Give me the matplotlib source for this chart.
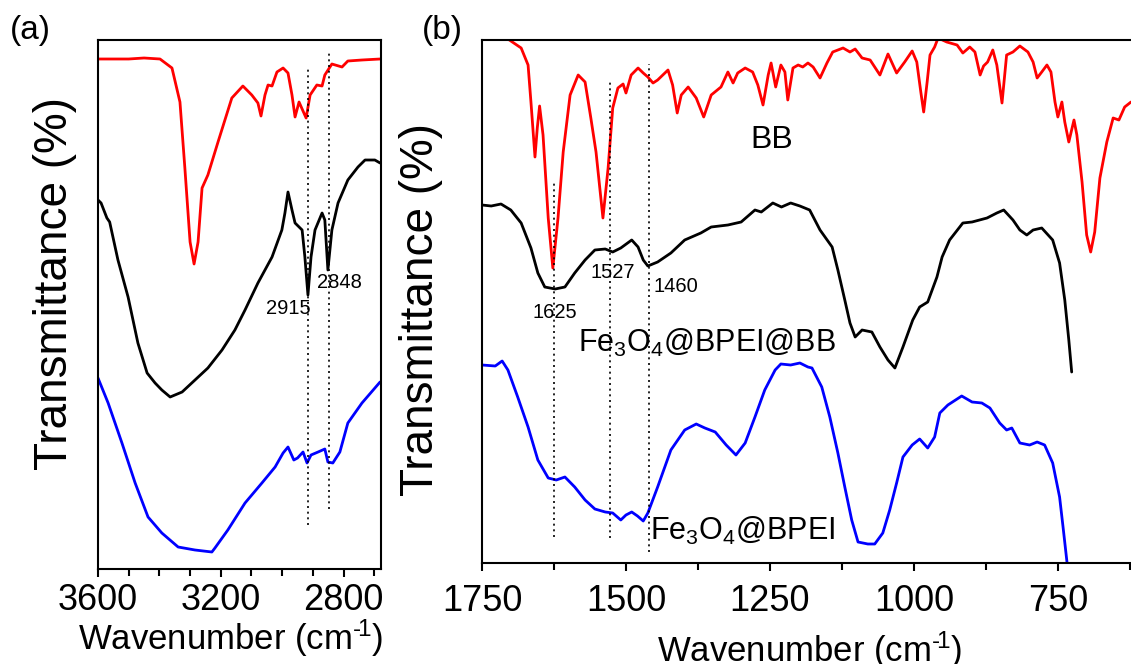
import matplotlib
matplotlib.use('Agg')
import matplotlib.pyplot as plt
from matplotlib.ticker import MultipleLocator

plt.rcParams['font.family'] = ['Liberation Sans', 'DejaVu Sans']
plt.rcParams['mathtext.fontset'] = 'custom'
plt.rcParams['mathtext.rm'] = 'Liberation Sans'
plt.rcParams['mathtext.it'] = 'Liberation Sans'
plt.rcParams['mathtext.default'] = 'regular'
plt.rcParams['lines.solid_joinstyle'] = 'round'
plt.rcParams['lines.solid_capstyle'] = 'round'

# ---- panel (a): 3600-2680 cm-1, transmittance in arbitrary units ----
bb_a_wn = [3600, 3500, 3450, 3398, 3359, 3333, 3317, 3300, 3287, 3274, 3261, 3242, 3209,
           3164, 3128, 3099, 3079, 3069, 3056, 3046, 3033, 3017, 2997, 2981, 2968, 2958,
           2945, 2922, 2909, 2887, 2870, 2861, 2838, 2805, 2786, 2740, 2681]
bb_a_t = [510, 510, 511, 510, 501, 467, 401, 327, 305, 327, 381, 394, 427,
          471, 483, 474, 466, 453, 474, 484, 483, 497, 501, 496, 474, 452,
          467, 451, 474, 484, 483, 494, 505, 502, 508, 509, 510]

fbb_a_wn = [3600, 3590, 3571, 3562, 3535, 3502, 3470, 3440, 3414, 3392, 3365, 3326, 3284,
            3242, 3196, 3154, 3121, 3079, 3033, 3001, 2991, 2981, 2968, 2958, 2935, 2926,
            2916, 2906, 2893, 2870, 2861, 2851, 2838, 2818, 2786, 2753, 2730, 2698, 2681]
fbb_a_t = [369, 366, 351, 347, 309, 272, 226, 196, 186, 179, 172, 177, 189,
           201, 219, 239, 259, 286, 312, 339, 356, 377, 359, 346, 339, 312,
           274, 312, 339, 356, 349, 299, 339, 366, 389, 402, 409, 409, 406]

fb_a_wn = [3600, 3567, 3522, 3479, 3437, 3392, 3339, 3284, 3229, 3219, 3177, 3121, 3066,
           3023, 2997, 2981, 2962, 2950, 2932, 2919, 2906, 2883, 2861, 2851, 2835, 2812,
           2786, 2740, 2681]
fb_a_t = [191, 166, 126, 86, 52, 36, 22, 19, 17, 21, 39, 66, 86,
          102, 116, 122, 109, 111, 117, 106, 114, 117, 120, 107, 106, 117,
          146, 166, 187]

peaks_a = [2915, 2848]
peaks_a_span = [(44, 502), (60, 517)]

# ---- panel (b): 1750-623 cm-1 ----
bb_b_wn = [1705, 1682, 1670, 1665, 1658, 1654, 1650, 1644, 1635, 1627, 1618, 1609, 1597,
           1583, 1571, 1561, 1552, 1540, 1531, 1523, 1514, 1505, 1500, 1491, 1479, 1470,
           1462, 1453, 1445, 1427, 1419, 1411, 1404, 1392, 1378, 1365, 1352, 1335, 1323,
           1314, 1306, 1293, 1280, 1271, 1262, 1253, 1248, 1240, 1231, 1224, 1219, 1210,
           1201, 1193, 1184, 1175, 1163, 1151, 1141, 1123, 1111, 1102, 1090, 1076, 1059,
           1045, 1030, 1016, 1003, 995, 988, 983, 977, 972, 964, 958, 943, 925, 915, 903,
           894, 885, 879, 872, 863, 856, 847, 839, 828, 816, 802, 793, 786, 778, 769, 762,
           755, 750, 743, 738, 731, 722, 717, 708, 700, 693, 686, 677, 665, 654, 644, 634,
           623]
bb_b_t = [524, 515, 498, 461, 406, 435, 457, 428, 345, 295, 345, 411, 468,
          488, 481, 445, 411, 345, 395, 455, 475, 479, 470, 488, 495, 490,
          486, 480, 483, 493, 478, 450, 468, 476, 465, 446, 468, 476, 491,
          480, 490, 495, 491, 478, 458, 488, 500, 476, 498, 491, 463, 495,
          498, 496, 500, 496, 485, 500, 511, 515, 511, 514, 505, 503, 488,
          509, 490, 501, 512, 501, 471, 451, 481, 508, 516, 525, 521, 518, 510, 516,
          511, 488, 497, 501, 513, 498, 460, 508, 511, 517, 511, 501, 485, 491, 498, 491,
          461, 446, 461, 441, 421, 443, 428, 381, 328, 311, 331, 385, 421, 445, 443, 456,
          461]

fbb_b_wn = [1750, 1734, 1717, 1700, 1682, 1665, 1653, 1641, 1623, 1606, 1589, 1571, 1554,
            1536, 1523, 1509, 1490, 1479, 1470, 1462, 1445, 1422, 1398, 1370, 1352, 1323,
            1300, 1276, 1265, 1245, 1230, 1214, 1198, 1181, 1163, 1142, 1132, 1120, 1111,
            1102, 1090, 1073, 1059, 1045, 1033, 1019, 1002, 990, 976, 960, 951, 938, 915,
            899, 873, 856, 844, 828, 816, 804, 793, 778, 759, 747, 738, 731, 726]
fbb_b_t = [358, 357, 359, 353, 340, 315, 290, 276, 274, 276, 290, 303, 313,
           314, 311, 315, 323, 316, 303, 297, 301, 310, 323, 330, 336, 338,
           341, 353, 351, 360, 356, 360, 357, 353, 333, 316, 293, 263, 240,
           226, 233, 231, 216, 203, 195, 216, 243, 256, 261, 286, 306, 323, 340,
           341, 345, 350, 353, 343, 333, 328, 333, 335, 323, 300, 263, 223, 191]

fb_b_wn = [1750, 1727, 1715, 1705, 1688, 1670, 1653, 1635, 1621, 1606, 1589, 1571, 1554,
           1536, 1523, 1509, 1500, 1490, 1480, 1470, 1462, 1445, 1422, 1398, 1378, 1363,
           1345, 1326, 1309, 1293, 1276, 1259, 1241, 1231, 1214, 1198, 1184, 1177, 1160,
           1146, 1132, 1120, 1108, 1097, 1080, 1068, 1054, 1042, 1030, 1019, 1003, 990,
           976, 964, 955, 941, 917, 899, 882, 868, 851, 839, 830, 816, 799, 786, 773,
           759, 747, 741, 734]
fb_b_t = [198, 197, 202, 193, 166, 136, 103, 85, 83, 86, 76, 63, 54,
          51, 50, 43, 48, 51, 47, 42, 50, 76, 113, 133, 139, 135,
          131, 118, 108, 120, 146, 173, 193, 199, 198, 200, 196, 195, 176,
          146, 110, 76, 43, 21, 19, 19, 30, 53, 80, 106, 118, 124,
          115, 126, 150, 158, 167, 161, 160, 155, 140, 133, 135, 120, 118, 121, 118,
          100, 66, 36, 0]

peaks_b = [1625, 1527, 1460]
peaks_b_span = [(26, 381), (25, 483), (11, 499)]

RED = '#ff0000'
BLUE = '#0000ff'
LW = 2.0

fig = plt.figure(figsize=(11.31, 6.64), dpi=100)
W, H = 1131, 664
ax_a = fig.add_axes([98 / W, 1 - 569 / H, 283 / W, 529 / H])
ax_b = fig.add_axes([482 / W, 1 - 563 / H, 649 / W, 523 / H])

# panel (a)
ax_a.plot(bb_a_wn, bb_a_t, color=RED, lw=LW)
ax_a.plot(fbb_a_wn, fbb_a_t, color='black', lw=LW)
ax_a.plot(fb_a_wn, fb_a_t, color=BLUE, lw=LW)
for p, (y0, y1) in zip(peaks_a, peaks_a_span):
    ax_a.plot([p, p], [y0, y1], color='black', lw=1.2, ls=(0, (1.2, 2.2)))
ax_a.text(2981, 261, '2915', fontsize=14.5, ha='center', va='center')
ax_a.text(2812, 286, '2848', fontsize=14.5, ha='center', va='center')
ax_a.set_xlim(3600, 2678)
ax_a.set_ylim(0, 529)
ax_a.xaxis.set_major_locator(MultipleLocator(400))
ax_a.xaxis.set_minor_locator(MultipleLocator(100))

# panel (b)
ax_b.plot(bb_b_wn, bb_b_t, color=RED, lw=LW)
ax_b.plot(fbb_b_wn, fbb_b_t, color='black', lw=LW)
ax_b.plot(fb_b_wn, fb_b_t, color=BLUE, lw=LW)
for p, (y0, y1) in zip(peaks_b, peaks_b_span):
    ax_b.plot([p, p], [y0, y1], color='black', lw=1.2, ls=(0, (1.2, 2.2)))
ax_b.text(1623, 250, '1625', fontsize=14.5, ha='center', va='center')
ax_b.text(1523, 291, '1527', fontsize=14.5, ha='center', va='center')
ax_b.text(1413, 276, '1460', fontsize=14.5, ha='center', va='center')
ax_b.text(1247, 423, 'BB', fontsize=23, ha='center', va='center')
ax_b.text(1583, 211, r'Fe$_3$O$_4$@BPEI@BB', fontsize=22, ha='left', va='baseline')
ax_b.text(1458, 23, r'Fe$_3$O$_4$@BPEI', fontsize=22, ha='left', va='baseline')
ax_b.set_xlim(1750, 623)
ax_b.set_ylim(0, 523)
ax_b.xaxis.set_major_locator(MultipleLocator(250))
ax_b.xaxis.set_minor_locator(MultipleLocator(125))
ax_b.spines['right'].set_visible(False)

for ax, pad in ((ax_a, 4), (ax_b, 9)):
    ax.set_yticks([])
    for s in ax.spines.values():
        s.set_linewidth(1.5)
    ax.tick_params(axis='x', which='major', direction='out', length=6, width=1.5,
                   labelsize=26, pad=pad, top=False)
    ax.tick_params(axis='x', which='minor', direction='out', length=5, width=1.5, top=False)
    ax.set_ylabel('Transmittance (%)', fontsize=33)
    ax.set_xlabel('Wavenumber (cm$^{\u2010\\!1}$)', fontsize=25, va='top')

ax_a.yaxis.set_label_coords(-0.074, 0.54)
ax_b.yaxis.set_label_coords(-0.060, 0.484)
ax_a.xaxis.set_label_coords(0.47, -0.091)
ax_b.xaxis.set_label_coords(0.505, -0.128)

fig.text(30 / W, 1 - 30 / H, '(a)', fontsize=24, ha='center', va='center')
fig.text(442 / W, 1 - 31 / H, '(b)', fontsize=24, ha='center', va='center')

fig.savefig('out.png', dpi=100)
